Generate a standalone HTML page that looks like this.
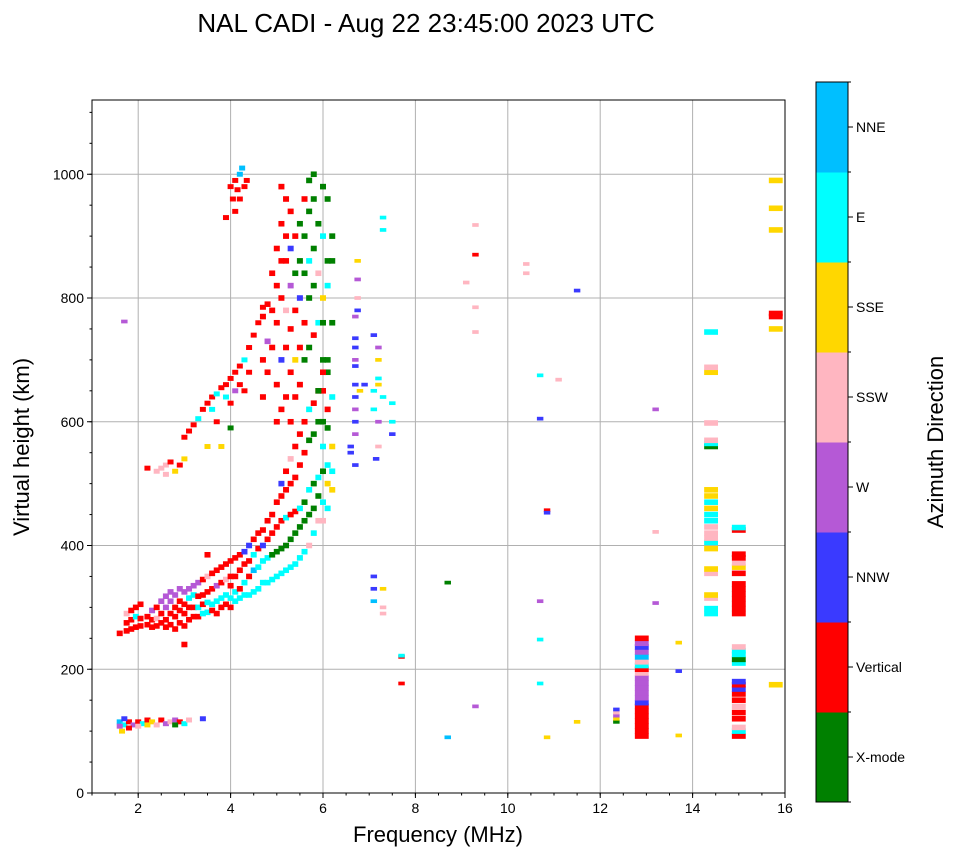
<!DOCTYPE html>
<html><head><meta charset="utf-8">
<style>
html,body{margin:0;padding:0;background:#fff;}
svg text{font-family:"Liberation Sans","DejaVu Sans",sans-serif;fill:#000;}
</style></head>
<body>
<svg id="chart" width="958" height="857" viewBox="0 0 958 857" xmlns="http://www.w3.org/2000/svg">
<text x="426" y="32" font-size="26" text-anchor="middle">NAL CADI - Aug 22 23:45:00 2023 UTC</text>
<g id="grid"></g>
<g id="marks"></g>
<rect x="92" y="100" width="693" height="693" fill="none" stroke="#000" stroke-width="1"/>
<g id="axes"></g>
<text x="438" y="842" font-size="22" text-anchor="middle">Frequency (MHz)</text>
<text transform="translate(29,447) rotate(-90)" font-size="22" text-anchor="middle">Virtual height (km)</text>
<g id="cbar"></g>
<text transform="translate(943,442) rotate(-90)" font-size="22" text-anchor="middle">Azimuth Direction</text>
</svg>
<script>
// ---- data ----
const dirLabels = ["X-mode","Vertical","NNW","W","SSW","SSE","E","NNE"];
const dirColors = ["#008000","#ff0000","#3a3aff","#b559d6","#ffb6c1","#ffd700","#00ffff","#00bfff"];
const xTicks = [2,4,6,8,10,12,14,16];
const yTicks = [0,200,400,600,800,1000];

// [freq MHz, height km, direction index]
const traceLowF = [
[1.6,258,1],[1.75,262,1],[1.75,275,1],[1.75,290,4],[1.85,265,1],[1.85,280,1],[1.85,295,1],[1.95,268,1],[1.95,285,6],[1.95,300,1],
[2.05,270,1],[2.05,282,1],[2.05,305,1],[2.2,272,1],[2.2,285,1],[2.3,268,1],[2.3,280,1],[2.3,295,3],[2.4,270,1],[2.4,282,4],[2.4,300,1],
[2.5,275,1],[2.5,290,1],[2.5,310,3],[2.6,268,1],[2.6,280,1],[2.6,300,3],[2.6,318,3],[2.7,272,1],[2.7,290,1],[2.7,310,3],[2.7,325,3],
[2.8,265,1],[2.8,285,1],[2.8,300,1],[2.8,320,3],[2.9,275,1],[2.9,295,1],[2.9,310,1],[2.9,330,3],[3.0,240,1],[3.0,270,1],[3.0,290,1],[3.0,305,1],[3.0,325,3],
[3.1,280,1],[3.1,300,1],[3.1,315,6],[3.1,330,3],[3.2,285,1],[3.2,300,1],[3.2,320,6],[3.2,335,3],[3.3,285,1],[3.3,300,6],[3.3,318,1],[3.3,340,3],
[3.4,290,6],[3.4,305,1],[3.4,320,1],[3.4,345,1],[3.5,292,6],[3.5,308,6],[3.5,325,1],[3.5,350,4],[3.5,385,1],[3.6,295,1],[3.6,305,6],[3.6,330,1],[3.6,355,1],
[3.7,290,1],[3.7,310,6],[3.7,335,3],[3.7,360,1],[3.8,300,1],[3.8,315,6],[3.8,340,1],[3.8,365,1],[3.9,305,1],[3.9,320,6],[3.9,345,4],[3.9,370,1],
[4.0,300,1],[4.0,315,6],[4.0,335,1],[4.0,350,1],[4.0,375,1],[4.1,310,6],[4.1,325,6],[4.1,350,1],[4.1,380,1],[4.2,315,6],[4.2,330,1],[4.2,360,1],[4.2,385,1],
[4.3,320,6],[4.3,340,6],[4.3,370,1],[4.3,390,2],[4.4,320,6],[4.4,350,1],[4.4,375,1],[4.4,400,2],[4.5,325,6],[4.5,360,7],[4.5,385,6],[4.5,410,1],
[4.6,330,6],[4.6,365,6],[4.6,395,1],[4.6,420,1],[4.7,340,6],[4.7,375,6],[4.7,400,2],[4.7,425,1],[4.8,340,6],[4.8,380,6],[4.8,410,1],[4.8,440,1]
];
const traceHighF = [
[4.9,345,6],[4.9,385,0],[4.9,420,1],[4.9,450,1],[5.0,350,6],[5.0,390,0],[5.0,430,1],[5.0,470,1],[5.1,355,6],[5.1,395,0],[5.1,440,1],[5.1,480,1],[5.1,500,2],
[5.2,360,6],[5.2,400,0],[5.2,445,6],[5.2,490,1],[5.2,520,1],[5.3,365,6],[5.3,410,0],[5.3,450,1],[5.3,500,1],[5.3,540,4],[5.4,370,6],[5.4,420,0],[5.4,455,1],[5.4,510,1],[5.4,560,1],
[5.5,380,6],[5.5,430,0],[5.5,460,6],[5.5,530,1],[5.5,580,1],[5.6,390,6],[5.6,440,0],[5.6,470,0],[5.6,550,1],[5.6,600,1],[5.7,400,4],[5.7,450,0],[5.7,490,6],[5.7,570,0],[5.7,620,6],
[5.8,420,6],[5.8,460,0],[5.8,500,0],[5.8,580,0],[5.8,630,1],[5.9,440,4],[5.9,480,0],[5.9,510,6],[5.9,600,0],[5.9,650,1],
[6.0,440,4],[6.0,470,6],[6.0,520,0],[6.0,560,6],[6.0,600,0],[6.0,650,1],[6.0,700,0],[6.1,460,6],[6.1,500,5],[6.1,530,6],[6.1,590,0],[6.1,620,1],[6.1,680,0],
[6.2,490,5],[6.2,520,6],[6.2,560,5]
];
const traceUpper = [
[4.7,640,1],[4.7,700,1],[4.7,770,1],[4.8,680,1],[4.8,730,3],[4.8,790,1],[4.9,720,1],[4.9,780,1],[4.9,840,1],
[5.0,600,1],[5.0,660,1],[5.0,760,1],[5.0,820,1],[5.0,880,1],[5.1,620,1],[5.1,700,2],[5.1,800,1],[5.1,860,1],[5.1,920,1],[5.1,980,1],
[5.2,640,1],[5.2,720,1],[5.2,780,4],[5.2,860,1],[5.2,900,1],[5.2,960,1],[5.3,600,1],[5.3,680,1],[5.3,750,1],[5.3,820,3],[5.3,880,2],[5.3,940,1],
[5.4,640,1],[5.4,700,5],[5.4,780,1],[5.4,840,0],[5.4,900,1],[5.5,660,1],[5.5,720,1],[5.5,800,2],[5.5,860,0],[5.5,920,0],
[5.6,700,0],[5.6,760,1],[5.6,840,0],[5.6,900,0],[5.6,960,1],[5.7,720,0],[5.7,800,0],[5.7,860,6],[5.7,940,0],[5.7,990,0],
[5.8,740,1],[5.8,820,0],[5.8,880,0],[5.8,960,0],[5.8,1000,0],[5.9,650,0],[5.9,760,6],[5.9,840,4],[5.9,920,0],
[6.0,600,0],[6.0,680,1],[6.0,760,0],[6.0,800,5],[6.0,900,6],[6.0,980,0],[6.1,700,0],[6.1,820,6],[6.1,860,0],[6.1,960,0],[6.2,640,6],[6.2,760,0],[6.2,860,0],[6.2,900,0]
];
const traceLeftUpper = [
[3.0,575,1],[3.1,585,1],[3.2,595,1],[3.3,605,6],[3.4,620,1],[3.5,630,1],[3.6,640,1],[3.7,645,6],[3.8,655,1],[3.9,660,1],[4.0,670,1],[4.1,680,1],
[4.2,690,1],[4.3,700,6],[4.4,720,1],[4.5,740,1],[4.6,760,1],[4.7,785,1],[3.9,640,6],[4.0,630,1],[4.1,650,3],[4.2,660,1],[4.4,680,1],[4.3,650,1],
[4.0,590,0],[3.6,620,6],[3.7,600,1],[3.5,560,5],[3.8,560,5],
[4.0,980,1],[4.05,960,1],[4.1,990,1],[4.15,975,1],[4.2,1000,7],[4.25,1010,7],[4.2,960,1],[4.3,980,1],[4.1,940,1],[3.9,930,1],[4.35,990,1],
[2.2,525,1],[2.4,520,4],[2.5,525,4],[2.6,530,4],[2.7,535,1],[2.8,520,5],[2.9,530,1],[3.0,540,5],[2.6,515,4]
];
const traceE = [
[1.6,115,7],[1.65,100,5],[1.7,110,6],[1.8,115,1],[1.9,110,3],[2.0,115,1],[2.1,112,6],[2.2,118,1],[2.3,115,5],[2.4,110,4],[2.5,118,1],
[2.6,112,3],[2.7,115,4],[2.8,118,3],[2.9,115,1],[3.0,112,6],[3.1,118,4],[3.4,120,2],[1.6,108,3],[1.7,120,2],[1.8,105,1],[2.0,108,4],[2.2,110,5],[2.8,110,0]
];
const sparseEchoes = [
[6.6,560,2],[6.7,580,3],[6.7,600,2],[6.7,620,3],[6.7,640,2],[6.7,660,2],[6.7,690,2],[6.7,700,3],[6.7,720,2],[6.7,735,2],[6.7,770,3],[6.75,780,2],
[6.75,800,4],[6.75,830,3],[6.75,860,5],[6.7,530,2],[6.6,550,2],[6.9,660,2],[6.8,650,5],
[7.1,620,6],[7.1,650,6],[7.2,700,5],[7.2,720,3],[7.1,740,2],[7.2,660,5],[7.3,640,6],[7.2,600,3],[7.15,540,2],[7.2,560,4],[7.3,930,6],[7.3,910,6],
[7.2,670,6],[7.1,350,2],[7.1,330,2],[7.3,290,4],[7.3,300,4],[7.3,330,5],[7.1,310,7],[7.5,580,2],[7.5,600,6],[7.5,630,6],
[7.7,220,1],[7.7,222,6],[7.7,177,1],[8.7,340,0],[8.7,90,7],[9.3,140,3],[9.3,870,1],[9.3,918,4],[9.3,785,4],[9.3,745,4],[9.1,825,4],
[10.4,855,4],[10.4,840,4],[10.7,675,6],[10.7,605,2],[10.85,457,1],[10.85,453,2],[10.7,310,3],[10.7,248,6],[10.7,177,6],[10.85,90,5],
[11.1,668,4],[11.5,812,2],[11.5,115,5],[13.2,620,3],[13.2,422,4],[13.2,307,3],[13.7,197,2],[13.7,243,5],[13.7,93,5],
[12.35,115,0],[12.35,120,5],[12.35,125,3],[12.35,130,4],[12.35,135,2],[1.7,762,3]
];
// wide columns
const columnEchoes = [
[12.9,92,1],[12.9,100,1],[12.9,108,1],[12.9,116,1],[12.9,124,1],[12.9,132,1],[12.9,140,1],[12.9,146,2],[12.9,154,3],[12.9,162,3],[12.9,170,3],
[12.9,178,3],[12.9,186,3],[12.9,194,4],[12.9,200,1],[12.9,206,6],[12.9,212,4],[12.9,220,7],[12.9,228,3],[12.9,236,2],[12.9,242,3],[12.9,250,1],
[14.4,290,6],[14.4,298,6],[14.4,315,4],[14.4,320,5],[14.4,355,4],[14.4,362,5],[14.4,395,5],[14.4,405,6],[14.4,412,4],[14.4,420,4],[14.4,430,4],
[14.4,440,6],[14.4,450,6],[14.4,460,5],[14.4,470,6],[14.4,480,5],[14.4,490,5],[14.4,560,0],[14.4,565,6],[14.4,570,4],[14.4,598,4],[14.4,680,5],[14.4,688,4],[14.4,745,6],
[15.0,92,1],[15.0,100,6],[15.0,106,4],[15.0,120,1],[15.0,130,1],[15.0,140,4],[15.0,150,1],[15.0,160,1],[15.0,168,2],[15.0,175,1],[15.0,180,2],
[15.0,210,6],[15.0,216,0],[15.0,224,6],[15.0,230,6],[15.0,236,4],[15.0,290,1],[15.0,298,1],[15.0,306,1],[15.0,314,1],[15.0,322,1],[15.0,330,1],[15.0,338,1],
[15.0,355,1],[15.0,365,5],[15.0,372,4],[15.0,380,1],[15.0,386,1],[15.0,425,1],[15.0,429,6],
[15.8,175,5],[15.8,750,5],[15.8,770,1],[15.8,775,1],[15.8,910,5],[15.8,945,5],[15.8,990,5]
];

// ---- scales ----
const X0=92, X1=785, Y0=793, Y1=100, FMIN=1, FMAX=16, HMIN=0, HMAX=1120;
const xs = f => X0 + (f-FMIN)/(FMAX-FMIN)*(X1-X0);
const ys = h => Y0 - (h-HMIN)/(HMAX-HMIN)*(Y0-Y1);
const NS="http://www.w3.org/2000/svg";
function mk(tag, attrs, parent){const e=document.createElementNS(NS,tag);for(const k in attrs)e.setAttribute(k,attrs[k]);parent.appendChild(e);return e;}

const grid=document.getElementById('grid'), axes=document.getElementById('axes');
xTicks.forEach(t=>{
  const l=mk('line',{x1:xs(t),x2:xs(t),y1:Y1,y2:Y0,stroke:'#b0b0b0','stroke-width':1},grid);
  
  
  const tk=mk('line',{x1:xs(t),x2:xs(t),y1:Y0,y2:Y0+5,stroke:'#000'},axes);
  
  
  const tx=mk('text',{x:xs(t),y:Y0+20,'font-size':14,'text-anchor':'middle'},axes);
  tx.textContent=t;
  
  
});
for(let f=1;f<=16;f+=0.5){
  const m=mk('line',{x1:xs(f),x2:xs(f),y1:Y0,y2:Y0+2.5,stroke:'#000'},axes);
  
  
}
for(let h=0;h<=1100;h+=50){
  const m=mk('line',{x1:X0-2.5,x2:X0,y1:ys(h),y2:ys(h),stroke:'#000'},axes);
  
  
}
yTicks.forEach(t=>{
  const l=mk('line',{x1:X0,x2:X1,y1:ys(t),y2:ys(t),stroke:'#b0b0b0','stroke-width':1},grid);
  
  
  const tk=mk('line',{x1:X0-5,x2:X0,y1:ys(t),y2:ys(t),stroke:'#000'},axes);
  
  
  const tx=mk('text',{x:X0-8,y:ys(t)+5,'font-size':14,'text-anchor':'end'},axes);
  tx.textContent=t;
  
  
});

const marks=document.getElementById('marks');
function drawSet(arr, wMHz, hKm, name){
  arr.forEach(p=>{
    const x=xs(p[0]-wMHz/2), w=xs(p[0]+wMHz/2)-x;
    const y=ys(p[1]+hKm/2), h=ys(p[1]-hKm/2)-y;
    const r=mk('rect',{x:x,y:y,width:w,height:h,fill:dirColors[p[2]]},marks);
    
    
  });
}
drawSet(traceE,0.13,8,'e-layer-echo');
drawSet(traceLowF,0.13,9,'f-trace-echo');
drawSet(traceHighF,0.13,9,'f-trace-echo');
drawSet(traceUpper,0.13,9,'upper-trace-echo');
drawSet(traceLeftUpper,0.13,8,'upper-trace-echo');
drawSet(sparseEchoes,0.14,6,'sparse-echo');
drawSet(columnEchoes,0.3,9,'column-echo');

const cb=document.getElementById('cbar');
const CX=816, CW=32, CT=82, CB=802, seg=(CB-CT)/dirLabels.length;
dirLabels.forEach((lab,i)=>{
  const y=CB-(i+1)*seg;
  const r=mk('rect',{x:CX,y:y,width:CW,height:seg+0.5,fill:dirColors[i]},cb);
  
  
  const tk=mk('line',{x1:CX+CW,x2:CX+CW+5,y1:y+seg/2,y2:y+seg/2,stroke:'#000'},cb);
  
  
  const t=mk('text',{x:CX+CW+8,y:y+seg/2+5,'font-size':14},cb);
  t.textContent=lab;
  
  
});
for(let i=0;i<=dirLabels.length;i++){
  const tk=mk('line',{x1:CX+CW,x2:CX+CW+3,y1:CT+i*seg,y2:CT+i*seg,stroke:'#000'},cb);
  
  
}
const fr=mk('rect',{x:CX,y:CT,width:CW,height:CB-CT,fill:'none',stroke:'#000'},cb);


</script>
</body></html>
